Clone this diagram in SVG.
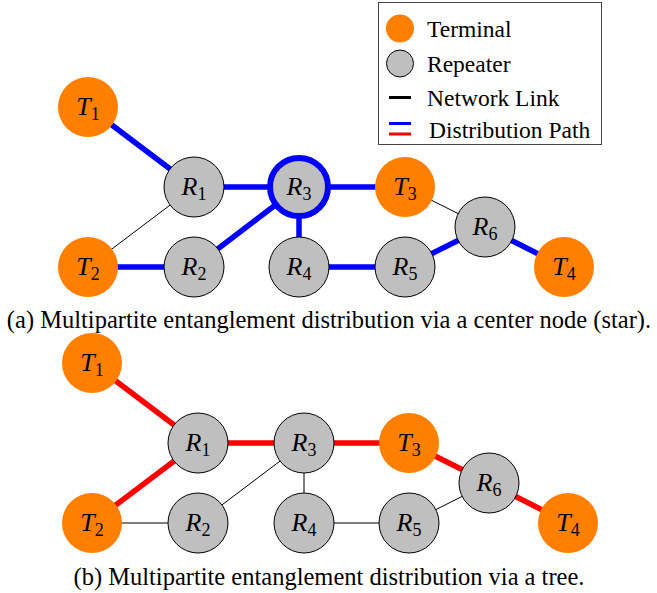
<svg xmlns="http://www.w3.org/2000/svg" width="657" height="593" viewBox="0 0 657 593">
  <style>
    .term { fill: #ff8000; }
    .rep { fill: #bfbfbf; stroke: #000; stroke-width: 1; }
    .lbl { font-family: "Liberation Serif", serif; font-style: italic; font-size: 26px; text-anchor: middle; fill: #000; }
    .sub { font-style: normal; font-size: 18px; }
    .link { stroke: #000; stroke-width: 1; fill: none; }
    .blue { stroke: #0000ff; stroke-width: 5.5; fill: none; }
    .red { stroke: #ff0000; stroke-width: 5.5; fill: none; }
    .txt { font-family: "Liberation Serif", serif; font-size: 23.5px; fill: #000; }
    .cap { font-family: "Liberation Serif", serif; font-size: 24.5px; fill: #000; text-anchor: middle; }
  </style>

  <!-- Legend -->
  <g id="legend">
    <rect x="378.5" y="2.5" width="223" height="142" fill="#fff" stroke="#444" stroke-width="1"/>
    <circle cx="400" cy="28.5" r="14" class="term"/>
    <text x="427" y="37" class="txt">Terminal</text>
    <circle cx="400" cy="63.5" r="13.5" class="rep"/>
    <text x="427" y="72" class="txt">Repeater</text>
    <line x1="389" y1="97.5" x2="411" y2="97.5" stroke="#000" stroke-width="3"/>
    <text x="427" y="106" class="txt">Network Link</text>
    <line x1="389" y1="123.5" x2="411" y2="123.5" stroke="#0000ff" stroke-width="3"/>
    <line x1="389" y1="134" x2="411" y2="134" stroke="#ff0000" stroke-width="3"/>
    <text x="429" y="138" class="txt">Distribution Path</text>
  </g>

  <!-- (a) star distribution -->
  <g id="connectors-a">
    <line x1="194" y1="187" x2="88" y2="267" class="link"/>
    <line x1="405" y1="187" x2="485" y2="227" class="link"/>
    <line x1="88" y1="107" x2="194" y2="187" class="blue"/>
    <line x1="194" y1="187" x2="299" y2="187" class="blue"/>
    <line x1="88" y1="267" x2="194" y2="267" class="blue"/>
    <line x1="194" y1="267" x2="299" y2="187" class="blue"/>
    <line x1="299" y1="187" x2="405" y2="187" class="blue"/>
    <line x1="299" y1="187" x2="299" y2="267" class="blue"/>
    <line x1="299" y1="267" x2="405" y2="267" class="blue"/>
    <line x1="405" y1="267" x2="485" y2="227" class="blue"/>
    <line x1="485" y1="227" x2="564" y2="267" class="blue"/>
  </g>
  <g id="a-T1"><circle cx="88" cy="107" r="30" class="term"/><text x="88" y="115" class="lbl">T<tspan class="sub" dy="5">1</tspan></text></g>
  <g id="a-T2"><circle cx="88" cy="267" r="30" class="term"/><text x="88" y="275" class="lbl">T<tspan class="sub" dy="5">2</tspan></text></g>
  <g id="a-T3"><circle cx="405" cy="187" r="30" class="term"/><text x="405" y="195" class="lbl">T<tspan class="sub" dy="5">3</tspan></text></g>
  <g id="a-T4"><circle cx="564" cy="267" r="30" class="term"/><text x="564" y="275" class="lbl">T<tspan class="sub" dy="5">4</tspan></text></g>
  <g id="a-R1"><circle cx="194" cy="187" r="30" class="rep"/><text x="194" y="195" class="lbl">R<tspan class="sub" dy="5">1</tspan></text></g>
  <g id="a-R2"><circle cx="194" cy="267" r="30" class="rep"/><text x="194" y="275" class="lbl">R<tspan class="sub" dy="5">2</tspan></text></g>
  <g id="a-R3"><circle cx="299" cy="187" r="29" fill="#bfbfbf" stroke="#0000ff" stroke-width="6"/><text x="299" y="195" class="lbl">R<tspan class="sub" dy="5">3</tspan></text></g>
  <g id="a-R4"><circle cx="299" cy="267" r="30" class="rep"/><text x="299" y="275" class="lbl">R<tspan class="sub" dy="5">4</tspan></text></g>
  <g id="a-R5"><circle cx="405" cy="267" r="30" class="rep"/><text x="405" y="275" class="lbl">R<tspan class="sub" dy="5">5</tspan></text></g>
  <g id="a-R6"><circle cx="485" cy="227" r="30" class="rep"/><text x="485" y="235" class="lbl">R<tspan class="sub" dy="5">6</tspan></text></g>
  <text id="caption-a" x="329" y="328" class="cap">(a) Multipartite entanglement distribution via a center node (star).</text>

  <!-- (b) tree distribution -->
  <g id="connectors-b">
    <line x1="92" y1="523" x2="198" y2="523" class="link"/>
    <line x1="198" y1="523" x2="304" y2="443" class="link"/>
    <line x1="304" y1="443" x2="304" y2="523" class="link"/>
    <line x1="304" y1="523" x2="409" y2="523" class="link"/>
    <line x1="409" y1="523" x2="489" y2="483" class="link"/>
    <line x1="92" y1="363" x2="198" y2="443" class="red"/>
    <line x1="198" y1="443" x2="92" y2="523" class="red"/>
    <line x1="198" y1="443" x2="304" y2="443" class="red"/>
    <line x1="304" y1="443" x2="409" y2="443" class="red"/>
    <line x1="409" y1="443" x2="489" y2="483" class="red"/>
    <line x1="489" y1="483" x2="568" y2="523" class="red"/>
  </g>
  <g id="b-T1"><circle cx="92" cy="363" r="30" class="term"/><text x="92" y="371" class="lbl">T<tspan class="sub" dy="5">1</tspan></text></g>
  <g id="b-T2"><circle cx="92" cy="523" r="30" class="term"/><text x="92" y="531" class="lbl">T<tspan class="sub" dy="5">2</tspan></text></g>
  <g id="b-T3"><circle cx="409" cy="443" r="30" class="term"/><text x="409" y="451" class="lbl">T<tspan class="sub" dy="5">3</tspan></text></g>
  <g id="b-T4"><circle cx="568" cy="523" r="30" class="term"/><text x="568" y="531" class="lbl">T<tspan class="sub" dy="5">4</tspan></text></g>
  <g id="b-R1"><circle cx="198" cy="443" r="30" class="rep"/><text x="198" y="451" class="lbl">R<tspan class="sub" dy="5">1</tspan></text></g>
  <g id="b-R2"><circle cx="198" cy="523" r="30" class="rep"/><text x="198" y="531" class="lbl">R<tspan class="sub" dy="5">2</tspan></text></g>
  <g id="b-R3"><circle cx="304" cy="443" r="30" class="rep"/><text x="304" y="451" class="lbl">R<tspan class="sub" dy="5">3</tspan></text></g>
  <g id="b-R4"><circle cx="304" cy="523" r="30" class="rep"/><text x="304" y="531" class="lbl">R<tspan class="sub" dy="5">4</tspan></text></g>
  <g id="b-R5"><circle cx="409" cy="523" r="30" class="rep"/><text x="409" y="531" class="lbl">R<tspan class="sub" dy="5">5</tspan></text></g>
  <g id="b-R6"><circle cx="489" cy="483" r="30" class="rep"/><text x="489" y="491" class="lbl">R<tspan class="sub" dy="5">6</tspan></text></g>
  <text id="caption-b" x="329" y="585" class="cap">(b) Multipartite entanglement distribution via a tree.</text>
</svg>
